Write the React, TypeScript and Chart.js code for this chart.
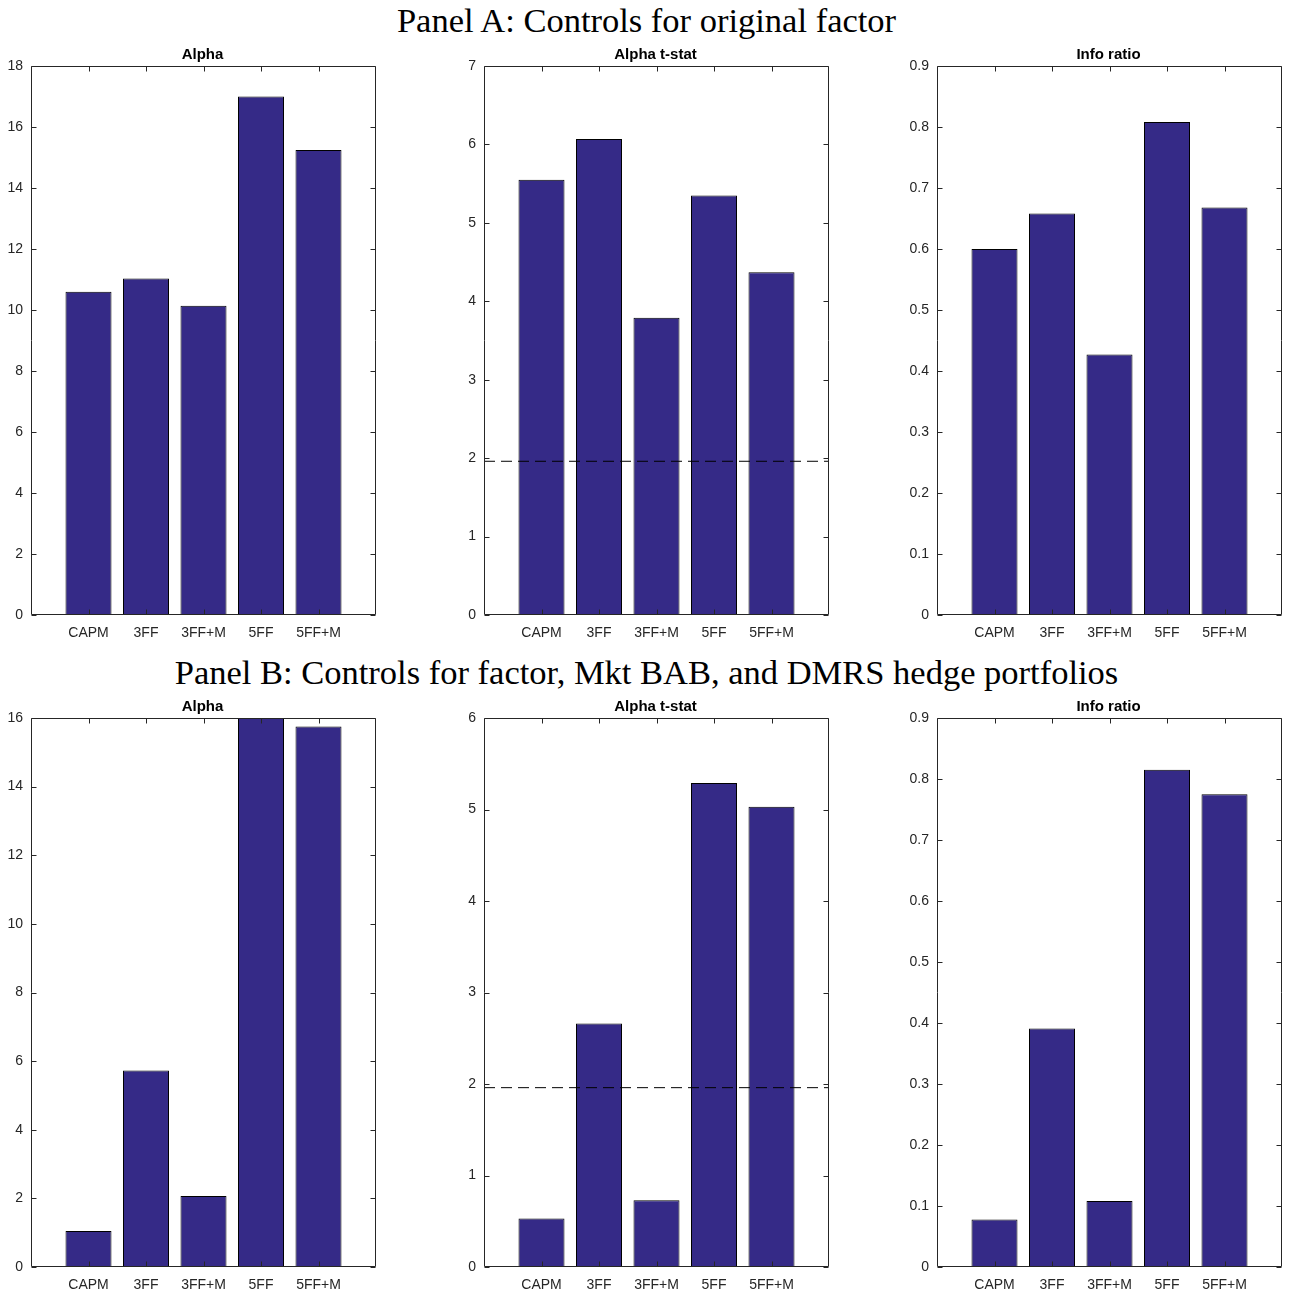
import React, { useEffect, useRef } from "react";
import { Chart, registerables } from "chart.js";

Chart.register(...registerables);

const categories = ["CAPM", "3FF", "3FF+M", "5FF", "5FF+M"];

const panelAAlpha = [10.6, 11.03, 10.14, 17.0, 15.25];
const panelATstat = [5.55, 6.07, 3.79, 5.35, 4.37];
const panelAInfo = [0.6, 0.658, 0.427, 0.808, 0.668];

const panelBAlpha = [1.05, 5.73, 2.07, 16.0, 15.75];
const panelBTstat = [0.53, 2.66, 0.73, 5.29, 5.03];
const panelBInfo = [0.078, 0.391, 0.108, 0.815, 0.775];

const tCritical = 1.96;

const panelTitles = [
  "Panel A: Controls for original factor",
  "Panel B: Controls for factor, Mkt BAB, and DMRS hedge portfolios",
];
const subTitles = ["Alpha", "Alpha t-stat", "Info ratio"];

const BAR_COLOR = "#352A87";
const AXIS_COLOR = "#262626";
const TICK_FONT = "Liberation Sans, Arial, Helvetica, sans-serif";

const PLOT_W = 345;
const PLOT_H = 549;
const PAD_L = 50;
const PAD_T = 40;
const PAD_R = 12;
const PAD_B = 36;

const matlabPlugin = {
  id: "matlabBox",
  afterDatasetsDraw(chart: any, _args: any, opts: any) {
    const { ctx, chartArea: a, scales } = chart;
    const xs = scales.x;
    const ys = scales.y;
    ctx.save();
    if (opts && opts.refLine != null) {
      const py = ys.getPixelForValue(opts.refLine);
      ctx.beginPath();
      ctx.setLineDash([11, 6]);
      ctx.strokeStyle = "#000";
      ctx.lineWidth = 1;
      ctx.moveTo(xs.getPixelForValue(0), py);
      ctx.lineTo(xs.getPixelForValue(categories.length + 1), py);
      ctx.stroke();
      ctx.setLineDash([]);
    }
    ctx.strokeStyle = AXIS_COLOR;
    ctx.lineWidth = 1;
    const L = Math.round(a.left) + 0.5;
    const R = Math.round(a.right) - 0.5;
    const T = Math.round(a.top) + 0.5;
    const B = Math.round(a.bottom) - 0.5;
    ctx.beginPath();
    ctx.rect(L, T, R - L, B - T);
    ctx.stroke();
    const tl = 5;
    ctx.beginPath();
    ys.ticks.forEach((t: any) => {
      const py = Math.round(ys.getPixelForValue(t.value)) + 0.5;
      ctx.moveTo(L, py);
      ctx.lineTo(L + tl, py);
      ctx.moveTo(R, py);
      ctx.lineTo(R - tl, py);
    });
    for (let i = 1; i <= categories.length; i++) {
      const px = Math.round(xs.getPixelForValue(i)) + 0.5;
      ctx.moveTo(px, B);
      ctx.lineTo(px, B - tl);
      ctx.moveTo(px, T);
      ctx.lineTo(px, T + tl);
    }
    ctx.stroke();
    if (opts && opts.title) {
      ctx.fillStyle = "#000";
      ctx.font = "bold 15px " + TICK_FONT;
      ctx.textAlign = "center";
      ctx.textBaseline = "alphabetic";
      ctx.fillText(opts.title, (a.left + a.right) / 2 - 1, a.top - 7);
    }
    ctx.restore();
  },
};

function fmt(v: number) {
  return String(Number(v.toFixed(3)));
}

type SubProps = {
  left: number;
  top: number;
  values: number[];
  yMax: number;
  yStep: number;
  title: string;
  refLine?: number | null;
};

function SubPlot({ left, top, values, yMax, yStep, title, refLine }: SubProps) {
  const ref = useRef<HTMLCanvasElement | null>(null);
  useEffect(() => {
    const canvas = ref.current;
    if (!canvas) return;
    const labels = ["", ...categories, ""];
    const data = [null, ...values, null];
    const chart = new Chart(canvas, {
      type: "bar",
      data: {
        labels,
        datasets: [
          {
            data: data as any,
            backgroundColor: BAR_COLOR,
            borderColor: "#000",
            borderWidth: 1,
            categoryPercentage: 1,
            barPercentage: 0.8,
          },
        ],
      },
      options: {
        responsive: false,
        animation: false,
        events: [],
        layout: { padding: { left: 0, top: PAD_T, right: PAD_R, bottom: 0 } },
        plugins: {
          legend: { display: false },
          tooltip: { enabled: false },
          title: { display: false },
          matlabBox: { refLine: refLine ?? null, title },
        } as any,
        scales: {
          x: {
            type: "category",
            offset: false,
            grid: { display: false, drawTicks: false },
            border: { display: false },
            ticks: {
              autoSkip: false,
              maxRotation: 0,
              minRotation: 0,
              padding: 10,
              color: AXIS_COLOR,
              font: { family: TICK_FONT, size: 14 },
            },
            afterFit: (s: any) => {
              s.height = PAD_B;
            },
          },
          y: {
            min: 0,
            max: yMax,
            grid: { display: false, drawTicks: false },
            border: { display: false },
            ticks: {
              stepSize: yStep,
              padding: 8,
              color: AXIS_COLOR,
              font: { family: TICK_FONT, size: 14 },
              callback: (v: any) => fmt(Number(v)),
            },
            afterFit: (s: any) => {
              s.width = PAD_L;
            },
          },
        },
      },
      plugins: [matlabPlugin],
    });
    return () => chart.destroy();
  }, [values, yMax, yStep, title, refLine]);
  return (
    <canvas
      ref={ref}
      width={PLOT_W + PAD_L + PAD_R}
      height={PLOT_H + PAD_T + PAD_B}
      style={{
        position: "absolute",
        left: left - PAD_L,
        top: top - PAD_T,
        width: PLOT_W + PAD_L + PAD_R,
        height: PLOT_H + PAD_T + PAD_B,
      }}
    />
  );
}

const colLefts = [31, 484, 937];
const rowTops = [66, 718];

export default function App() {
  const titleStyle = (top: number): React.CSSProperties => ({
    position: "absolute",
    left: 0,
    width: 1293,
    top,
    textAlign: "center",
    fontFamily: "Liberation Serif, DejaVu Serif, serif",
    fontSize: 34.5,
    lineHeight: "40px",
    color: "#000",
    whiteSpace: "nowrap",
  });
  return (
    <div
      style={{
        position: "absolute",
        left: 0,
        top: 0,
        width: 1289,
        height: 1297,
        background: "#fff",
        overflow: "hidden",
      }}
    >
      <div style={titleStyle(0)}>{panelTitles[0]}</div>
      <div style={titleStyle(652)}>{panelTitles[1]}</div>
      <SubPlot left={colLefts[0]} top={rowTops[0]} values={panelAAlpha} yMax={18} yStep={2} title={subTitles[0]} />
      <SubPlot left={colLefts[1]} top={rowTops[0]} values={panelATstat} yMax={7} yStep={1} title={subTitles[1]} refLine={tCritical} />
      <SubPlot left={colLefts[2]} top={rowTops[0]} values={panelAInfo} yMax={0.9} yStep={0.1} title={subTitles[2]} />
      <SubPlot left={colLefts[0]} top={rowTops[1]} values={panelBAlpha} yMax={16} yStep={2} title={subTitles[0]} />
      <SubPlot left={colLefts[1]} top={rowTops[1]} values={panelBTstat} yMax={6} yStep={1} title={subTitles[1]} refLine={tCritical} />
      <SubPlot left={colLefts[2]} top={rowTops[1]} values={panelBInfo} yMax={0.9} yStep={0.1} title={subTitles[2]} />
    </div>
  );
}
